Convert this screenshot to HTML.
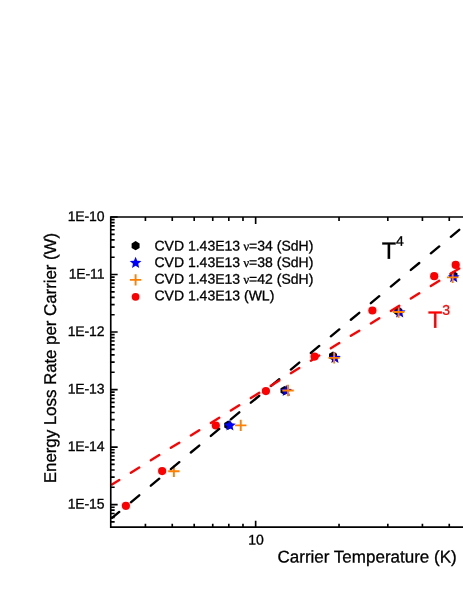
<!DOCTYPE html>
<html><head><meta charset="utf-8"><title>chart</title>
<style>html,body{margin:0;padding:0;background:#fff;}body{width:463px;height:599px;overflow:hidden;}svg{display:block;will-change:transform;}text{font-family:"Liberation Sans",sans-serif;text-rendering:geometricPrecision;stroke:#000;stroke-width:0.3px;}</style></head><body>
<svg width="463" height="599" viewBox="0 0 463 599">
<rect width="463" height="599" fill="#fff"/>
<g id="data">
<polygon points="228.20,420.60 224.22,422.90 224.22,427.50 228.20,429.80 232.18,427.50 232.18,422.90" fill="#000"/>
<polygon points="284.50,385.90 280.52,388.20 280.52,392.80 284.50,395.10 288.48,392.80 288.48,388.20" fill="#000"/>
<polygon points="333.00,351.40 329.02,353.70 329.02,358.30 333.00,360.60 336.98,358.30 336.98,353.70" fill="#000"/>
<polygon points="398.30,306.80 394.32,309.10 394.32,313.70 398.30,316.00 402.28,313.70 402.28,309.10" fill="#000"/>
<polygon points="453.50,270.90 449.52,273.20 449.52,277.80 453.50,280.10 457.48,277.80 457.48,273.20" fill="#000"/>
<polygon points="229.90,419.45 228.27,423.36 224.05,423.70 227.27,426.46 226.29,430.58 229.90,428.37 233.51,430.58 232.53,426.46 235.75,423.70 231.53,423.36" fill="#0000ff"/>
<polygon points="286.20,384.75 284.57,388.66 280.35,389.00 283.57,391.76 282.59,395.88 286.20,393.67 289.81,395.88 288.83,391.76 292.05,389.00 287.83,388.66" fill="#0000ff"/>
<polygon points="334.95,351.85 333.32,355.76 329.10,356.10 332.32,358.86 331.34,362.98 334.95,360.77 338.56,362.98 337.58,358.86 340.80,356.10 336.58,355.76" fill="#0000ff"/>
<polygon points="399.70,306.25 398.07,310.16 393.85,310.50 397.07,313.26 396.09,317.38 399.70,315.17 403.31,317.38 402.33,313.26 405.55,310.50 401.33,310.16" fill="#0000ff"/>
<polygon points="453.70,271.15 452.07,275.06 447.85,275.40 451.07,278.16 450.09,282.28 453.70,280.07 457.31,282.28 456.33,278.16 459.55,275.40 455.33,275.06" fill="#0000ff"/>
<path d="M168.20 471.30H179.60M173.90 465.60V477.00" stroke="#ff8000" stroke-width="1.9" fill="none"/>
<path d="M235.05 425.35H246.45M240.75 419.65V431.05" stroke="#ff8000" stroke-width="1.9" fill="none"/>
<path d="M282.35 390.50H293.75M288.05 384.80V396.20" stroke="#ff8000" stroke-width="1.9" fill="none"/>
<path d="M328.45 357.90H339.85M334.15 352.20V363.60" stroke="#ff8000" stroke-width="1.9" fill="none"/>
<path d="M392.90 312.00H404.30M398.60 306.30V317.70" stroke="#ff8000" stroke-width="1.9" fill="none"/>
<path d="M447.00 277.40H458.40M452.70 271.70V283.10" stroke="#ff8000" stroke-width="1.9" fill="none"/>
<circle cx="125.9" cy="505.8" r="4.1" fill="#ff0000"/>
<circle cx="162.15" cy="471.1" r="4.1" fill="#ff0000"/>
<circle cx="215.8" cy="425.5" r="4.1" fill="#ff0000"/>
<circle cx="265.9" cy="391.1" r="4.1" fill="#ff0000"/>
<circle cx="314.6" cy="356.6" r="4.1" fill="#ff0000"/>
<circle cx="372.4" cy="310.5" r="4.1" fill="#ff0000"/>
<circle cx="434.2" cy="276.2" r="4.1" fill="#ff0000"/>
<circle cx="455.7" cy="264.9" r="4.1" fill="#ff0000"/>
</g>
<path d="M112.05 517.88L119.25 511.91M130.85 502.28L139.25 495.31M150.85 485.69L159.25 478.72M170.85 469.09L179.25 462.12M190.85 452.50L199.25 445.53M210.85 435.91L219.25 428.94M230.85 419.31L239.25 412.34M250.85 402.72L259.25 395.75M270.85 386.12L279.25 379.15M290.85 369.53L299.25 362.56M310.85 352.94L319.25 345.97M330.85 336.34L339.25 329.37M350.85 319.75L359.25 312.78M370.85 303.15L379.25 296.18M390.85 286.56L399.25 279.59M410.85 269.97L419.25 263.00M430.85 253.37L439.25 246.40M450.85 236.78L459.25 229.81" stroke="#000" stroke-width="2.35" fill="none" stroke-linecap="round"/>
<path d="M112.05 484.46L119.25 479.98M130.85 472.76L139.25 467.53M150.85 460.31L159.25 455.09M170.85 447.87L179.25 442.64M190.85 435.42L199.25 430.20M210.85 422.98L219.25 417.75M230.85 410.53L239.25 405.30M250.85 398.08L259.25 392.86M270.85 385.64L279.25 380.41M290.85 373.19L299.25 367.97M310.85 360.75L319.25 355.52M330.85 348.30L339.25 343.07M350.85 335.85L359.25 330.63M370.85 323.41L379.25 318.18M390.85 310.96L399.25 305.74M410.85 298.52L419.25 293.29M430.85 286.07L439.25 280.84M450.85 273.62L459.25 268.40" stroke="#ff0000" stroke-width="2.35" fill="none" stroke-linecap="round"/>
<g stroke="#000" stroke-width="1.65" fill="none" stroke-linecap="butt">
<path d="M463 217.0H110.75V527.05H463"/>
<path d="M110.75 521.92h3.9M110.75 517.36h3.9M110.75 513.51h3.9M110.75 510.17h3.9M110.75 507.23h3.9M110.75 504.60h6.9M110.75 487.28h3.9M110.75 477.16h3.9M110.75 469.97h3.9M110.75 464.40h3.9M110.75 459.84h3.9M110.75 455.99h3.9M110.75 452.65h3.9M110.75 449.71h3.9M110.75 447.08h6.9M110.75 429.76h3.9M110.75 419.64h3.9M110.75 412.45h3.9M110.75 406.88h3.9M110.75 402.32h3.9M110.75 398.47h3.9M110.75 395.13h3.9M110.75 392.19h3.9M110.75 389.56h6.9M110.75 372.24h3.9M110.75 362.12h3.9M110.75 354.93h3.9M110.75 349.36h3.9M110.75 344.80h3.9M110.75 340.95h3.9M110.75 337.61h3.9M110.75 334.67h3.9M110.75 332.04h6.9M110.75 314.72h3.9M110.75 304.60h3.9M110.75 297.41h3.9M110.75 291.84h3.9M110.75 287.28h3.9M110.75 283.43h3.9M110.75 280.09h3.9M110.75 277.15h3.9M110.75 274.52h6.9M110.75 257.20h3.9M110.75 247.08h3.9M110.75 239.89h3.9M110.75 234.32h3.9M110.75 229.76h3.9M110.75 225.91h3.9M110.75 222.57h3.9M110.75 219.63h3.9M110.75 217.00h6.9M145.42 527.05v-3.3M145.42 217.0v3.9M172.26 527.05v-3.3M172.26 217.0v3.9M194.20 527.05v-3.3M194.20 217.0v3.9M212.74 527.05v-3.3M212.74 217.0v3.9M228.81 527.05v-3.3M228.81 217.0v3.9M242.98 527.05v-3.3M242.98 217.0v3.9M255.65 527.05v-6.4M255.65 217.0v6.9M339.04 527.05v-3.3M339.04 217.0v3.9M387.81 527.05v-3.3M387.81 217.0v3.9M422.42 527.05v-3.3M422.42 217.0v3.9M449.26 527.05v-3.3M449.26 217.0v3.9"/>
</g>
<g font-size="14px" fill="#000" text-anchor="end" letter-spacing="-0.15">
<text x="104.3" y="508.60" transform="rotate(0.03 104.3 508.60)">1E-15</text>
<text x="104.3" y="451.08" transform="rotate(0.03 104.3 451.08)">1E-14</text>
<text x="104.3" y="393.56" transform="rotate(0.03 104.3 393.56)">1E-13</text>
<text x="104.3" y="336.04" transform="rotate(0.03 104.3 336.04)">1E-12</text>
<text x="104.3" y="278.52" transform="rotate(0.03 104.3 278.52)">1E-11</text>
<text x="104.3" y="221.00" transform="rotate(0.03 104.3 221.00)">1E-10</text>
</g>
<text x="255.9" y="544.6" transform="rotate(0.03 255.9 544.6)" font-size="14px" text-anchor="middle" letter-spacing="-0.15">10</text>
<text x="277.5" y="562.5" transform="rotate(0.03 277.5 562.5)" font-size="17px">Carrier Temperature (K)</text>
<text transform="translate(55.9 483.2) rotate(-90)" font-size="17px" letter-spacing="-0.09">Energy Loss Rate per Carrier (W)</text>
<polygon points="135.60,241.10 131.62,243.40 131.62,248.00 135.60,250.30 139.58,248.00 139.58,243.40" fill="#000"/>
<polygon points="135.60,256.75 133.97,260.66 129.75,261.00 132.97,263.76 131.99,267.88 135.60,265.67 139.21,267.88 138.23,263.76 141.45,261.00 137.23,260.66" fill="#0000ff"/>
<path d="M129.90 279.90H141.30M135.60 274.20V285.60" stroke="#ff8000" stroke-width="1.9" fill="none"/>
<circle cx="135.6" cy="296.8" r="3.9" fill="#ff0000"/>
<g font-size="14px" fill="#000">
<text x="154.5" y="250.4" transform="rotate(0.03 154.5 250.4)">CVD 1.43E13 <tspan x="243.5" font-family="Liberation Serif" font-size="12.5px">ν</tspan><tspan x="249.1">=34 (SdH)</tspan></text>
<text x="154.5" y="266.9" transform="rotate(0.03 154.5 266.9)">CVD 1.43E13 <tspan x="243.5" font-family="Liberation Serif" font-size="12.5px">ν</tspan><tspan x="249.1">=38 (SdH)</tspan></text>
<text x="154.5" y="283.6" transform="rotate(0.03 154.5 283.6)">CVD 1.43E13 <tspan x="243.5" font-family="Liberation Serif" font-size="12.5px">ν</tspan><tspan x="249.1">=42 (SdH)</tspan></text>
<text x="154.5" y="300.2" transform="rotate(0.03 154.5 300.2)">CVD 1.43E13 (WL)</text>
</g>
<text x="381.7" y="258.7" transform="rotate(0.03 381.7 258.7)" font-size="23.5px" fill="#000">T<tspan dy="-13" font-size="14px">4</tspan></text>
<text x="428.0" y="327.8" transform="rotate(0.03 428 327.8)" font-size="23.5px" fill="#ff0000" style="stroke:#ff0000">T<tspan dy="-13" font-size="14px">3</tspan></text>
</svg></body></html>
